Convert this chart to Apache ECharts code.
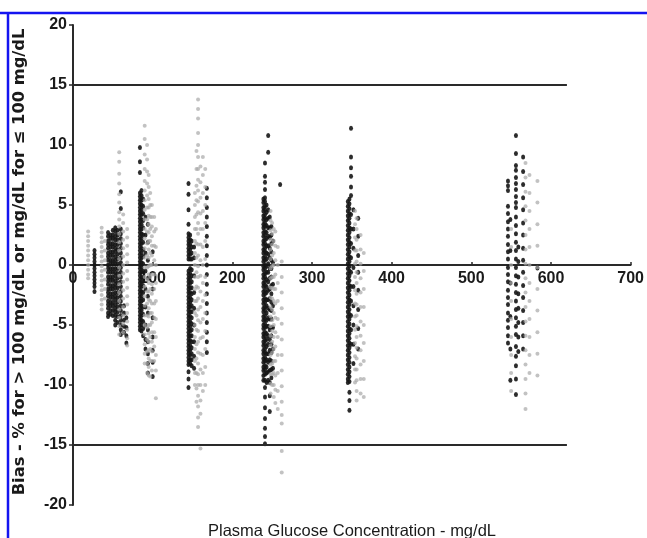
<!DOCTYPE html>
<html>
<head>
<meta charset="utf-8">
<script src="https://cdn.jsdelivr.net/npm/echarts@6/dist/echarts.min.js"></script>
<style>
  html, body { margin: 0; padding: 0; background: #ffffff; }
  #chart { width: 647px; height: 538px; }
</style>
</head>
<body>
<div id="chart"></div>
<script>
// Tick values for both axes
const xTicks = [0, 100, 200, 300, 400, 500, 600, 700];
const yTicks = [-20, -15, -10, -5, 0, 5, 10, 15, 20];

// Acceptance limits (bias of ±15) drawn up to this glucose level
const limitValues = [15, -15];
const limitEnd = 620;

// Meter A readings (dark marks): [glucose mg/dL, [bias values]]
const darkCols = [
  [27, [1.2, 0.9, 0.6, 0.3, 0.0, -0.3, -0.6, -0.9, -1.2, -1.5, -1.8, -2.2]],
  [44, [2.7, 2.4, 2.0, 1.7, 1.4, 1.0, 0.7, 0.4, 0.0, -0.3, -0.6, -1.0, -1.3, -1.6, -2.0, -2.3, -2.6, -3.0, -3.3, -3.6, -4.0, -4.3]],
  [47, [2.5, 2.2, 1.8, 1.5, 1.1, 0.8, 0.4, 0.1, -0.3, -0.6, -1.0, -1.3, -1.7, -2.0, -2.4, -2.7, -3.1, -3.4, -3.8, -4.1]],
  [50, [2.9, 2.5, 2.2, 1.8, 1.5, 1.1, 0.8, 0.4, 0.1, -0.3, -0.6, -1.0, -1.3, -1.7, -2.0, -2.4, -2.7, -3.1, -3.4, -3.8, -4.2]],
  [53, [3.1, 2.8, 2.4, 2.1, 1.7, 1.4, 1.1, 0.7, 0.4, 0.1, -0.3, -0.6, -0.9, -1.3, -1.6, -1.9, -2.3, -2.6, -2.9, -3.3, -3.6, -3.9, -4.2, -4.6, -5.0]],
  [56, [2.9, 2.5, 2.1, 1.7, 1.3, 0.9, 0.5, 0.1, -0.3, -0.7, -1.1, -1.5, -1.9, -2.3, -2.7, -3.1, -3.5, -3.9, -4.3, -4.8]],
  [60, [6.1, 4.7, 3.0, 2.6, 2.2, 1.8, 1.4, 1.0, 0.6, 0.2, -0.2, -0.6, -1.0, -1.4, -1.8, -2.2, -2.6, -3.0, -3.4, -3.8, -4.2, -4.6, -5.0, -5.4, -5.8]],
  [64, [-3.4, -4.0, -4.6, -5.1, -5.6]],
  [67, [-4.4, -5.2, -5.9, -6.5]],
  [84, [9.8, 8.6, 7.7, 6.0, 5.7, 5.4, 5.1, 4.8, 4.5, 4.2, 3.9, 3.6, 3.3, 3.0, 2.7, 2.4, 2.1, 1.8, 1.5, 1.2, 0.9, 0.6, 0.3, 0.0, -0.3, -0.6, -0.9, -1.2, -1.5, -1.8, -2.1, -2.4, -2.7, -3.0, -3.3, -3.6, -3.9, -4.2, -4.5, -4.8, -5.1, -5.4]],
  [86, [6.2, 5.8, 5.4, 5.0, 4.6, 4.2, 3.8, 3.4, 3.0, 2.6, 2.2, 1.8, 1.4, 1.0, 0.6, 0.2, -0.2, -0.6, -1.0, -1.4, -1.8, -2.2, -2.6, -3.0, -3.4, -3.8, -4.2, -4.6, -5.0, -5.5]],
  [88, [5.5, 4.9, 4.3, 3.7, 3.1, 2.5, 1.9, 1.3, 0.7, 0.1, -0.5, -1.1, -1.7, -2.3, -2.9, -3.5, -4.1, -4.7, -5.3, -5.9]],
  [91, [4.0, 2.5, 1.0, -0.5, -2.0, -3.5, -5.0, -6.2, -7.0]],
  [94, [3.4, 1.9, 0.4, -1.1, -2.6, -4.0, -5.4, -6.4, -7.4, -8.2, -9.0]],
  [100, [1.1, -2.0, -4.4, -6.0, -7.1, -8.1, -9.3]],
  [145, [6.8, 5.9, 4.6, 3.4, 2.6, 2.3, 2.0, 1.7, 1.4, 1.1, 0.8, 0.5, -0.5, -0.8, -1.1, -1.4, -1.7, -2.0, -2.3, -2.6, -2.9, -3.2, -3.5, -3.8, -4.1, -4.4, -4.7, -5.0, -5.3, -5.6, -5.9, -6.2, -6.5, -6.8, -7.1, -7.4, -7.7, -8.0, -8.3, -8.9, -9.5, -10.2]],
  [147, [2.5, 2.1, 1.7, 1.3, 0.9, 0.5, -0.3, -0.7, -1.1, -1.5, -1.9, -2.3, -2.7, -3.1, -3.5, -3.9, -4.3, -4.7, -5.1, -5.5, -5.9, -6.3, -6.7, -7.1, -7.5, -7.9, -8.2]],
  [149, [2.0, 1.5, 1.0, 0.5, -0.4, -0.9, -1.4, -1.9, -2.4, -2.9, -3.4, -3.9, -4.4, -4.9, -5.4, -5.9, -6.4, -6.9, -7.4, -7.9, -8.4]],
  [152, [1.5, 0.6, -0.9, -2.3, -3.6, -5.0, -6.4, -7.6, -8.6]],
  [168, [6.4, 5.6, 4.8, 4.0, 3.2, 2.4, 1.6, 0.8, 0.0, -0.8, -1.6, -2.4, -3.2, -4.0, -4.8, -5.6, -6.4, -7.3]],
  [239, [5.5, 5.2, 4.8, 4.5, 4.1, 3.8, 3.4, 3.1, 2.7, 2.4, 2.0, 1.7, 1.3, 1.0, 0.6, 0.3, -0.1, -0.4, -0.8, -1.1, -1.5, -1.8, -2.2, -2.5, -2.9, -3.2, -3.6, -3.9, -4.3, -4.6, -5.0, -5.3, -5.7, -6.0, -6.4, -6.7, -7.1, -7.4, -7.8, -8.1, -8.5, -8.8, -9.2, -9.6]],
  [241, [8.5, 7.4, 6.9, 6.3, 5.6, 5.3, 4.9, 4.6, 4.2, 3.9, 3.5, 3.2, 2.8, 2.5, 2.1, 1.8, 1.4, 1.1, 0.7, 0.4, 0.0, -0.3, -0.7, -1.0, -1.4, -1.7, -2.1, -2.4, -2.8, -3.1, -3.5, -3.8, -4.2, -4.5, -4.9, -5.2, -5.6, -5.9, -6.3, -6.6, -7.0, -7.3, -7.7, -8.0, -8.4, -8.7, -9.1, -9.6, -10.2, -11.0, -11.9, -12.8, -13.6, -14.3, -14.9]],
  [243, [5.0, 4.4, 3.8, 3.3, 2.7, 2.2, 1.6, 1.0, 0.5, -0.1, -0.6, -1.2, -1.8, -2.3, -2.9, -3.4, -4.0, -4.6, -5.1, -5.7, -6.2, -6.8, -7.4, -7.9, -8.5, -9.0, -9.8]],
  [245, [10.8, 9.4, 4.6, 3.9, 3.1, 2.4, 1.6, 0.9, 0.1, -0.6, -1.4, -2.1, -2.9, -3.6, -4.4, -5.1, -5.9, -6.6, -7.4, -8.1, -8.9, -9.6]],
  [247, [4.0, 3.1, 2.3, 1.4, 0.6, -0.3, -1.1, -2.0, -2.8, -3.7, -4.5, -5.4, -6.2, -7.1, -7.9, -8.8, -9.8, -10.9, -12.2]],
  [249, [3.2, 2.5, 1.8, 1.1, 0.4, -0.3, -1.0, -1.7, -2.4, -3.1, -3.8, -4.5, -5.2, -5.9, -6.6, -7.3, -8.0, -8.7, -9.4]],
  [251, [2.0, 0.2, -1.6, -3.4, -5.2, -7.0, -8.6]],
  [260, [6.7]],
  [345, [5.3, 4.9, 4.5, 4.1, 3.7, 3.3, 2.9, 2.5, 2.1, 1.7, 1.3, 0.9, 0.5, 0.1, -0.3, -0.7, -1.1, -1.5, -1.9, -2.3, -2.7, -3.1, -3.5, -3.9, -4.3, -4.7, -5.1, -5.5, -5.9, -6.3, -6.7, -7.1, -7.5, -7.9, -8.3, -8.7, -9.1, -9.5, -9.8]],
  [347, [5.5, 5.1, 4.7, 4.3, 3.9, 3.5, 3.1, 2.7, 2.3, 1.9, 1.5, 1.1, 0.7, 0.3, -0.1, -0.5, -0.9, -1.3, -1.7, -2.1, -2.5, -2.9, -3.3, -3.7, -4.1, -4.5, -4.9, -5.3, -5.7, -6.1, -6.5, -6.9, -7.3, -7.7, -8.1, -8.5, -8.9, -9.3, -9.7, -10.6, -11.3, -12.1]],
  [349, [11.4, 9.0, 8.1, 7.4, 6.5, 5.8, 4.2, 3.0, 1.8, 0.6, -0.6, -1.8, -3.0, -4.2, -5.4, -6.6]],
  [352, [4.6, 3.0, 1.4, -0.2, -1.8, -3.4, -5.0, -6.6, -8.2]],
  [358, [3.9, 2.4, 0.8, -0.6, -2.1, -3.7, -5.3, -7.0]],
  [546, [7.0, 6.6, 6.2, 4.9, 4.3, 3.6, 3.0, 2.4, 1.7, 1.1, 0.5, -0.2, -0.8, -1.4, -2.1, -2.7, -3.3, -4.0, -4.6, -5.2, -5.9, -6.5]],
  [549, [3.8, 1.2, -1.5, -4.3, -7.0, -9.6]],
  [556, [10.8, 9.3, 8.3, 7.9, 7.3, 6.8, 6.3, 5.7, 5.2, 4.8, 4.0, 3.3, 2.6, 1.9, 1.2, 0.5, -0.2, -0.9, -1.6, -2.3, -3.0, -3.7, -4.4, -5.1, -5.8, -6.8, -7.6, -8.4, -9.5, -10.8]],
  [559, [1.5, 0.3, -1.0, -2.4, -3.6, -4.8, -6.0, -7.2]],
  [565, [9.0, 7.8, 6.7, 5.6, 4.6, 3.5, 2.5, 1.4, 0.4, -0.6, -1.7, -2.7, -3.8, -4.8, -5.9, -7.0]],
  [583, [-0.25]]
];

// Meter B readings (light grey marks): [glucose mg/dL, [bias values]]
const lightCols = [
  [19, [2.8, 2.4, 2.0, 1.6, 1.2, 0.8, 0.4, 0.0, -0.4, -0.8, -1.1]],
  [36, [3.1, 2.7, 2.3, 1.9, 1.5, 1.1, 0.7, 0.3, -0.1, -0.5, -0.9, -1.3, -1.7, -2.1, -2.5, -2.9, -3.3, -3.7]],
  [40, [2.0, 1.2, 0.4, -0.4, -1.2, -2.0, -2.8]],
  [58, [9.4, 8.6, 7.6, 6.8, 5.9, 5.2, 4.4, 3.8, 3.2, 2.6, 1.9, 1.2, 0.5, -0.2, -0.9, -1.6, -2.3, -3.0, -3.7, -4.4, -5.1, -5.8]],
  [63, [4.2, 3.5, 2.8, 2.1, 1.4, 0.7, 0.0, -0.7, -1.4, -2.1, -2.8, -3.5, -4.2, -4.9, -5.6]],
  [68, [3.0, 2.3, 1.6, 0.9, 0.2, -0.5, -1.2, -1.9, -2.6, -3.3, -4.0, -4.7, -5.4, -6.1, -6.7]],
  [90, [11.6, 10.5, 9.2, 8.0, 7.0, 6.2, 5.4, 4.6, 3.8, 3.0, 2.2, 1.4, 0.6, -0.2, -1.0, -1.8, -2.6, -3.4, -4.2, -5.0, -5.8, -6.6, -7.4, -8.2]],
  [93, [10.0, 8.8, 7.8, 6.8, 5.8, 4.8, 3.8, 2.8, 1.8, 0.8, -0.2, -1.2, -2.2, -3.2, -4.2, -5.2, -6.2, -7.2, -8.2, -9.0]],
  [95, [7.5, 6.5, 5.5, 4.8, 4.1, 3.4, 2.7, 2.0, 1.3, 0.6, -0.1, -0.8, -1.5, -2.2, -2.9, -3.6, -4.3, -5.0, -5.7, -6.4, -7.1, -7.8, -8.5, -9.2]],
  [97, [6.0, 5.0, 4.0, 3.0, 2.0, 1.0, 0.0, -1.0, -2.0, -3.0, -4.0, -5.0, -6.0, -7.0, -8.0, -9.3]],
  [99, [5.0, 4.0, 3.2, 2.4, 1.6, 0.8, 0.0, -0.8, -1.6, -2.4, -3.2, -4.0, -4.8, -5.6, -6.4, -7.2, -8.0, -8.8]],
  [102, [4.0, 2.8, 1.6, 0.4, -0.8, -2.0, -3.2, -4.4, -5.6, -6.8, -8.0]],
  [104, [3.0, 1.5, 0.0, -1.5, -3.0, -4.5, -6.0, -7.5, -8.8, -11.1]],
  [153, [6.0, 5.0, 4.0, 3.0, 2.0, 1.0, 0.0, -1.0, -2.0, -3.0, -4.0, -5.0, -6.0, -7.0, -8.0, -9.0, -10.0]],
  [155, [9.5, 8.0, 6.6, 5.4, 4.2, 3.0, 1.8, 0.6, -0.6, -1.8, -3.0, -4.2, -5.4, -6.6, -7.8, -9.0, -10.3, -11.4]],
  [157, [13.8, 13.0, 12.2, 11.0, 10.0, 9.0, 8.0, 7.1, 6.2, 5.3, 4.4, 3.5, 2.6, 1.7, 0.8, -0.1, -1.0, -1.9, -2.8, -3.7, -4.6, -5.5, -6.4, -7.3, -8.2, -9.1, -10.0, -10.9, -11.8, -12.7, -13.5]],
  [160, [8.2, 6.9, 5.6, 4.3, 3.0, 1.7, 0.4, -0.9, -2.2, -3.5, -4.8, -6.1, -7.4, -8.7, -10.0, -11.3, -12.4, -15.3]],
  [163, [9.0, 7.5, 6.0, 4.5, 3.0, 1.5, 0.0, -1.5, -3.0, -4.5, -6.0, -7.5, -9.0, -10.5]],
  [166, [8.0, 6.5, 5.0, 3.5, 2.0, 0.5, -1.0, -2.5, -4.0, -5.5, -7.0, -8.5, -10.0]],
  [248, [4.5, 3.7, 2.9, 2.1, 1.3, 0.5, -0.3, -1.1, -1.9, -2.7, -3.5, -4.3, -5.1, -5.9, -6.7, -7.5, -8.3, -9.1, -9.9, -10.7]],
  [250, [3.5, 2.6, 1.7, 0.8, -0.1, -1.0, -1.9, -2.8, -3.7, -4.6, -5.5, -6.4, -7.3, -8.2, -9.1, -10.0]],
  [252, [3.0, 2.0, 1.0, 0.0, -1.0, -2.0, -3.0, -4.0, -5.0, -6.0, -7.0, -8.0, -9.0, -10.0, -11.0]],
  [254, [2.8, 1.6, 0.4, -0.8, -2.0, -3.2, -4.4, -5.6, -6.8, -8.0, -9.2, -10.4, -11.5]],
  [257, [1.5, 0.0, -1.5, -3.0, -4.5, -6.0, -7.5, -9.0, -10.5, -12.0]],
  [262, [0.3, -1.0, -2.3, -3.6, -4.9, -6.2, -7.5, -8.8, -10.1, -11.4, -12.5, -13.2, -15.5, -17.3]],
  [354, [4.5, 3.4, 2.3, 1.2, 0.1, -1.0, -2.1, -3.2, -4.3, -5.4, -6.5, -7.6, -8.7, -9.8]],
  [356, [3.9, 3.0, 2.1, 1.2, 0.3, -0.6, -1.5, -2.4, -3.3, -4.2, -5.1, -6.0, -6.9, -7.8, -8.7, -9.6, -10.5, -11.3]],
  [361, [2.5, 1.3, 0.1, -1.1, -2.3, -3.5, -4.7, -5.9, -7.1, -8.3, -9.5, -10.7]],
  [365, [1.0, -0.5, -2.0, -3.5, -5.0, -6.5, -8.0, -9.5, -11.0]],
  [550, [3.0, 1.5, 0.0, -1.5, -3.0, -4.5, -6.0, -7.5, -9.0, -10.5]],
  [568, [8.5, 7.3, 6.1, 4.9, 3.7, 2.5, 1.3, 0.1, -1.1, -2.3, -3.5, -4.7, -5.9, -7.1, -8.3, -9.5, -10.7, -12.0]],
  [573, [7.5, 6.0, 4.5, 3.0, 1.5, 0.0, -1.5, -3.0, -4.5, -6.0, -7.5, -9.0]],
  [583, [7.0, 5.2, 3.4, 1.6, -0.2, -2.0, -3.8, -5.6, -7.4, -9.2]]
];

// Flatten column lists into [x, y] pairs for the scatter series
function toPoints(cols) {
  const out = [];
  cols.forEach(([x, ys]) => ys.forEach(y => out.push([x, y])));
  return out;
}

const chart = echarts.init(document.getElementById('chart'), null, { renderer: 'canvas' });
const axisColor = '#2a2a2a';
const font = 'Liberation Sans, Arial, sans-serif';

chart.setOption({
  animation: false,
  backgroundColor: '#ffffff',
  grid: { left: 73, right: 16, top: 25, bottom: 33, containLabel: false },
  xAxis: {
    type: 'value',
    min: xTicks[0], max: xTicks[xTicks.length - 1], interval: 100,
    // axis drawn across the zero-bias level (grid is 480px tall, zero is 240px above the bottom)
    offset: -240,
    splitLine: { show: false },
    axisLine: { onZero: false, lineStyle: { color: axisColor, width: 2 } },
    axisTick: { inside: true, length: 3, lineStyle: { color: axisColor, width: 1.5 } },
    axisLabel: { color: '#1a1a1a', fontSize: 16, fontWeight: 'bold', fontFamily: font, margin: 6 }
  },
  yAxis: {
    type: 'value',
    min: yTicks[0], max: yTicks[yTicks.length - 1], interval: 5,
    splitLine: { show: false },
    axisLine: { lineStyle: { color: axisColor, width: 2 } },
    axisTick: { length: 4, lineStyle: { color: axisColor, width: 1.5 } },
    axisLabel: { color: '#1a1a1a', fontSize: 16, fontWeight: 'bold', fontFamily: font, margin: 6 }
  },
  series: [
    {
      type: 'scatter', name: 'Meter A',
      data: toPoints(darkCols),
      symbol: 'circle', symbolSize: [4, 5],
      itemStyle: { color: '#151515', opacity: 0.9 },
      z: 2
    },
    {
      type: 'scatter', name: 'Meter B',
      data: toPoints(lightCols),
      symbol: 'circle', symbolSize: [4, 4],
      itemStyle: { color: '#a8a8a8', opacity: 0.7 },
      z: 3
    },
    ...limitValues.map(v => ({
      type: 'line',
      data: [[0, v], [limitEnd, v]],
      symbol: 'none',
      lineStyle: { color: axisColor, width: 2 },
      z: 4
    }))
  ],
  graphic: [
    // page frame
    { type: 'line', shape: { x1: 0, y1: 13, x2: 647, y2: 13 }, style: { stroke: '#1414f0', lineWidth: 2.5 } },
    { type: 'line', shape: { x1: 8, y1: 12, x2: 8, y2: 538 }, style: { stroke: '#1414f0', lineWidth: 2.5 } },
    {
      type: 'text', x: 20, y: 262, rotation: Math.PI / 2,
      style: {
        text: 'Bias - % for > 100 mg/dL or mg/dL for \u2264 100 mg/dL',
        font: 'bold 16.3px DejaVu Sans, sans-serif',
        fill: '#1a1a1a', textAlign: 'center', textVerticalAlign: 'middle'
      }
    },
    {
      type: 'text', x: 352, y: 531,
      style: {
        text: 'Plasma Glucose Concentration - mg/dL',
        font: '16.5px Liberation Sans, Arial, sans-serif',
        fill: '#1a1a1a', textAlign: 'center', textVerticalAlign: 'middle'
      }
    }
  ]
});
</script>
</body>
</html>
